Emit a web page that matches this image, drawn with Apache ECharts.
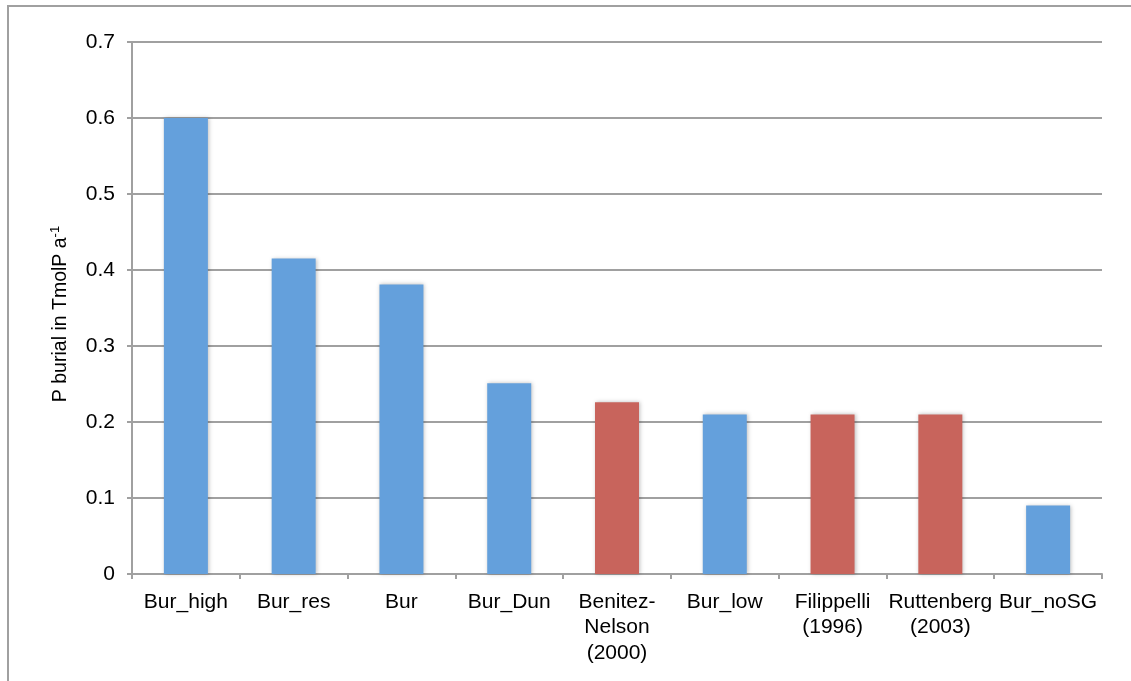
<!DOCTYPE html>
<html>
<head>
<meta charset="utf-8">
<script src="https://cdn.jsdelivr.net/npm/echarts@6/dist/echarts.min.js"></script>
<style>html,body{margin:0;padding:0;background:#fff}#c{width:1131px;height:681px}</style>
</head>
<body>
<div id="c"></div>
<script>
const categories = ['Bur_high', 'Bur_res', 'Bur', 'Bur_Dun', 'Benitez-\nNelson\n(2000)', 'Bur_low', 'Filippelli\n(1996)', 'Ruttenberg\n(2003)', 'Bur_noSG'];
const values = [0.6, 0.415, 0.381, 0.251, 0.226, 0.21, 0.21, 0.21, 0.09];
const isLiterature = [false, false, false, false, true, false, true, true, false];
const yTicks = [0, 0.1, 0.2, 0.3, 0.4, 0.5, 0.6, 0.7];
const BLUE = '#64A0DC', RED = '#C8645C';

const chart = echarts.init(document.getElementById('c'));
const font = 'Liberation Sans, Arial, Helvetica, sans-serif';
chart.setOption({
  animation: false,
  graphic: [{
    type: 'rect', shape: {x: 8, y: 6, width: 1200, height: 800},
    style: {fill: 'none', stroke: '#a0a0a0', lineWidth: 2}, silent: true
  }],
  grid: {left: 132, right: 29, top: 42, bottom: 107, containLabel: false},
  xAxis: {
    type: 'category', data: categories,
    axisLine: {lineStyle: {color: '#a0a0a0', width: 2}},
    axisTick: {show: true, length: 5, lineStyle: {color: '#a0a0a0', width: 2}},
    axisLabel: {color: '#000', fontSize: 21, fontFamily: font, lineHeight: 25.5, margin: 15, interval: 0}
  },
  yAxis: {
    type: 'value', min: yTicks[0], max: yTicks[yTicks.length - 1], interval: 0.1,
    name: '{m|P burial in TmolP a}{s|-1}',
    nameLocation: 'middle', nameGap: 60,
    nameTextStyle: {
      padding: [0, 12, 0, 0],
      rich: {
        m: {fontSize: 19.5, fontFamily: font, color: '#000'},
        s: {fontSize: 13, fontFamily: font, color: '#000', verticalAlign: 'top', padding: [0, 0, 10, 0]}
      }
    },
    axisLine: {show: true, lineStyle: {color: '#a0a0a0', width: 2}},
    axisTick: {show: true, length: 5, lineStyle: {color: '#a0a0a0', width: 2}},
    splitLine: {lineStyle: {color: '#a0a0a0', width: 2}},
    axisLabel: {color: '#000', fontSize: 21, fontFamily: font, margin: 17,
      formatter: v => yTicks.includes(Math.round(v * 10) / 10) ? String(Math.round(v * 10) / 10) : ''}
  },
  series: [{
    type: 'bar', barWidth: 44,
    data: values.map((v, i) => ({value: v, itemStyle: {color: isLiterature[i] ? RED : BLUE}})),
    itemStyle: {shadowBlur: 4, shadowColor: 'rgba(0,0,0,0.25)', shadowOffsetX: 1, shadowOffsetY: 0}
  }]
});
</script>
</body>
</html>
